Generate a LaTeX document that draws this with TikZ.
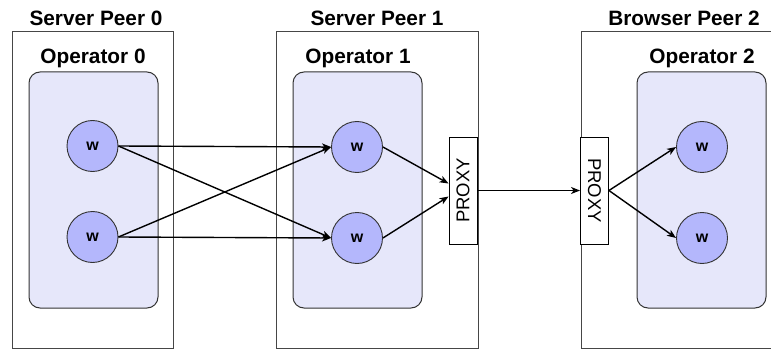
\documentclass[tikz,border=0pt]{standalone}
\usepackage{fontspec}
\setmainfont{Liberation Sans}
\usetikzlibrary{arrows.meta}

\definecolor{opfill}{RGB}{230,231,250}
\definecolor{wfill}{RGB}{180,183,252}
\definecolor{edge}{RGB}{51,51,51}
\definecolor{peeredge}{RGB}{70,70,70}

\tikzset{
  peerbox/.style={draw=peeredge, line width=0.9pt, rectangle, inner sep=0pt},
  title/.style={font=\fontsize{20.8}{24}\selectfont\bfseries, inner sep=0pt},
  opbox/.style={draw=edge, fill=opfill, line width=1pt, rectangle, rounded corners=11pt,
    minimum width=129pt, minimum height=236pt, inner sep=0pt},
  worker/.style={circle, draw=edge, fill=wfill, line width=0.9pt, minimum size=51pt,
    inner sep=0pt, font=\fontsize{16}{18}\selectfont\bfseries},
  proxybox/.style={draw=black, fill=white, line width=0.9pt, rectangle,
    minimum width=28pt, minimum height=107pt, inner sep=0pt},
  proxytext/.style={font=\fontsize{18.5}{21}\selectfont},
  flow/.style={draw=black, line width=1.4pt, -{Stealth[length=9pt,width=7pt,inset=2.5pt]}}
}

\begin{document}
\begin{tikzpicture}[x=1pt, y=-1pt]
  \useasboundingbox (0,0) rectangle (771,350);

  % peer containers
  \node[peerbox, minimum width=161pt, minimum height=317pt] (peer0) at (92.5,189.5) {};
  \node[peerbox, minimum width=202pt, minimum height=317pt] (peer1) at (377,189.5) {};
  \node[peerbox, minimum width=260pt, minimum height=317pt] (peer2) at (711,189.5) {};

  \node[title] (t0) at (96,18) {Server Peer 0};
  \node[title] (t1) at (377,18) {Server Peer 1};
  \node[title] (t2) at (684,18) {Browser Peer 2};

  % operators
  \node[opbox] (op0) at (93.5,190) {};
  \node[opbox] (op1) at (357.5,190) {};
  \node[opbox] (op2) at (701.5,190) {};

  \node[title] (l0) at (93,58) {Operator 0};
  \node[title] (l1) at (358,58) {Operator 1};
  \node[title] (l2) at (702,58) {Operator 2};

  % workers
  \node[worker] (w0a) at (92.5,146) {w};
  \node[worker] (w0b) at (92.5,237) {w};
  \node[worker] (w1a) at (357,147) {w};
  \node[worker] (w1b) at (357,238) {w};
  \node[worker] (w2a) at (702,147) {w};
  \node[worker] (w2b) at (702,238) {w};

  % proxies
  \node[proxybox] (px1) at (463,190.5) {};
  \node[proxytext, rotate=90] (px1t) at (px1.center) {PROXY};
  \node[proxybox] (px2) at (594.5,190.5) {};
  \node[proxytext, rotate=-90] (px2t) at (px2.center) {PROXY};

  % all-to-all exchange between operator 0 and operator 1
  \draw[flow] (w0a.east) -- (w1a.west);
  \draw[flow] (w0a.east) -- (w1b.west);
  \draw[flow] (w0b.east) -- (w1a.west);
  \draw[flow] (w0b.east) -- (w1b.west);

  % into the server-side proxy
  \draw[flow] (w1a.east) -- ([yshift=7pt]px1.west);
  \draw[flow] (w1b.east) -- ([yshift=-6pt]px1.west);

  % proxy to proxy
  \draw[flow] (px1.east) -- (px2.west);

  % browser-side proxy fans out
  \draw[flow] (px2.east) -- (w2a.west);
  \draw[flow] (px2.east) -- (w2b.west);
\end{tikzpicture}
\end{document}
